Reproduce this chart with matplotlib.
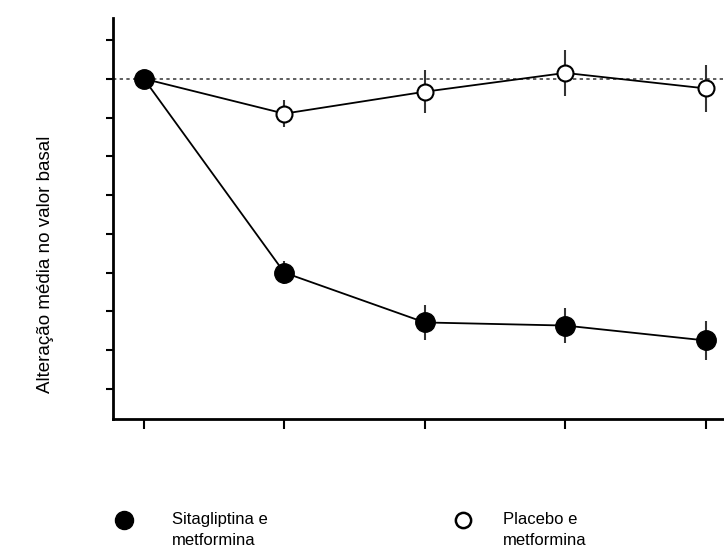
import matplotlib.pyplot as plt
from matplotlib.lines import Line2D

plt.rcParams['font.family'] = ['Liberation Sans', 'DejaVu Sans']

# semanas (indices) e alteracao media
weeks = [0, 1, 2, 3, 4]
sita = [0.0, -1.0, -1.257, -1.273, -1.35]
sita_err = [0.0, 0.06, 0.09, 0.09, 0.10]
placebo = [0.0, -0.18, -0.067, 0.03, -0.05]
placebo_err = [0.0, 0.07, 0.11, 0.12, 0.12]
y_ticks = [0.2, 0.0, -0.2, -0.4, -0.6, -0.8, -1.0, -1.2, -1.4, -1.6]
labels = ['Sitagliptina e\nmetformina', 'Placebo e\nmetformina']

fig = plt.figure(figsize=(7.24, 5.47), dpi=100)
ax = fig.add_axes([0.156, 0.234, 0.844, 0.733])

ax.axhline(0, color='#444444', linestyle=(0, (2, 2)), linewidth=1.2, zorder=1)

ax.errorbar(weeks, placebo, yerr=placebo_err, fmt='-o', color='black',
            ecolor='#333333', elinewidth=1.5, linewidth=1.3,
            markersize=11.5, markerfacecolor='white', markeredgecolor='black',
            markeredgewidth=1.5, zorder=3)
ax.errorbar(weeks, sita, yerr=sita_err, fmt='-o', color='black',
            ecolor='#333333', elinewidth=1.5, linewidth=1.3,
            markersize=14, markerfacecolor='black', markeredgecolor='black',
            zorder=4)

ax.set_xlim(-0.22, 4.13)
ax.set_ylim(-1.755, 0.313)
ax.set_xticks(weeks)
ax.set_yticks(y_ticks)
ax.set_xticklabels([])
ax.set_yticklabels([])
ax.spines['top'].set_visible(False)
ax.spines['right'].set_visible(False)
ax.spines['left'].set_linewidth(2)
ax.spines['bottom'].set_linewidth(2)
ax.tick_params(axis='y', length=5, width=1.5)
ax.tick_params(axis='x', length=7, width=1.5)

fig.text(0.063, 1 - 264 / 547, 'Alteração média no valor basal', rotation=90,
         ha='center', va='center', fontsize=13.5)

# legenda na parte de baixo
fig.add_artist(Line2D([124 / 724], [1 - 520 / 547], transform=fig.transFigure,
                      marker='o', color='black', markersize=13))
fig.add_artist(Line2D([463 / 724], [1 - 520 / 547], transform=fig.transFigure,
                      marker='o', markerfacecolor='white', markeredgecolor='black',
                      markeredgewidth=1.8, markersize=11))
fig.text(172 / 724, 1 - 512 / 547, labels[0], ha='left', va='top',
         fontsize=12, linespacing=1.5)
fig.text(503 / 724, 1 - 512 / 547, labels[1], ha='left', va='top',
         fontsize=12, linespacing=1.5)

fig.savefig('out.png', dpi=100)
